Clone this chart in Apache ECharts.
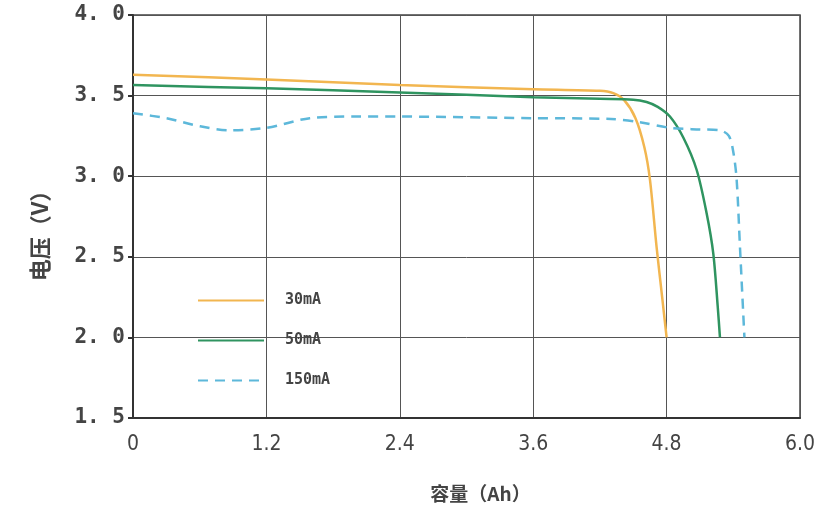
<!DOCTYPE html>
<html><head><meta charset="utf-8">
<script src="https://cdn.jsdelivr.net/npm/echarts@6/dist/echarts.min.js"></script>
<style>html,body{margin:0;padding:0;background:#fff}#c{width:825px;height:509px}</style>
</head><body><div id="c"></div>
<script>
const seriesNames = ['30mA', '50mA', '150mA'];
const cap30 = [0, 1.2, 2.4, 3.6, 4.2, 4.32, 4.42, 4.52, 4.6, 4.65, 4.71, 4.76, 4.8];
const volt30 = [3.63, 3.60, 3.565, 3.54, 3.53, 3.515, 3.47, 3.36, 3.18, 2.98, 2.56, 2.25, 2.0];
const cap50 = [0, 1.2, 2.4, 3.6, 4.2, 4.5, 4.62, 4.72, 4.83, 4.95, 5.07, 5.16, 5.22, 5.26, 5.28];
const volt50 = [3.565, 3.545, 3.52, 3.49, 3.48, 3.475, 3.46, 3.43, 3.37, 3.24, 3.04, 2.77, 2.52, 2.19, 2.0];
const cap150 = [0, 0.3, 0.6, 0.87, 1.2, 1.59, 1.98, 2.4, 3.6, 4.3, 4.56, 4.83, 5.1, 5.28, 5.36, 5.4, 5.43, 5.46, 5.5];
const volt150 = [3.39, 3.36, 3.31, 3.285, 3.30, 3.36, 3.37, 3.37, 3.36, 3.355, 3.335, 3.30, 3.29, 3.285, 3.25, 3.15, 2.98, 2.56, 2.0];
const xTicks = ['0', '1.2', '2.4', '3.6', '4.8', '6.0'];
const colors = ['#F2B650', '#2F9460', '#5DB8DA'];

const zip = (a, b) => a.map((v, i) => [v, b[i]]);
const chart = echarts.init(document.getElementById('c'));
const mkSeries = (i, xs, ys, type) => ({
  name: seriesNames[i], type: 'line', data: zip(xs, ys), symbol: 'none',
  smooth: 0.3,
  lineStyle: {color: colors[i], width: 2.5, type: type},
  itemStyle: {color: colors[i]}
});
chart.setOption({
  animation: false,
  grid: {left: 133, right: 25, top: 15, bottom: 91, show: true, borderColor: '#444', borderWidth: 1.5},
  legend: {
    orient: 'vertical', left: 192, top: 288, itemWidth: 66, itemHeight: 12, itemGap: 25,
    data: seriesNames,
    itemStyle: {opacity: 0},
    textStyle: {color: '#444', fontSize: 15, fontWeight: 'bold', fontFamily: 'DejaVu Sans Mono', padding: [0, 0, 0, 16]}
  },
  xAxis: {
    type: 'value', min: 0, max: 6, interval: 1.2,
    name: '容量（Ah）', nameLocation: 'middle', nameGap: 66,
    nameTextStyle: {color: '#444', fontSize: 19, fontWeight: 'bold', fontFamily: 'Noto Sans CJK SC', padding: [0, 0, 0, 28]},
    axisLine: {lineStyle: {color: '#333', width: 2}},
    axisTick: {show: false},
    axisLabel: {color: '#444', fontSize: 21, margin: 16, fontFamily: 'DejaVu Sans Condensed, Liberation Sans, sans-serif',
      formatter: v => xTicks[Math.round(v / 1.2)]},
    splitLine: {lineStyle: {color: '#555', width: 1}}
  },
  yAxis: {
    type: 'value', min: 1.5, max: 4.0, interval: 0.5,
    name: '电压（V）', nameLocation: 'middle', nameGap: 82,
    nameTextStyle: {color: '#444', fontSize: 22, fontWeight: 'bold', fontFamily: 'Noto Sans CJK SC', padding: [0, 28, 0, 0]},
    axisLine: {lineStyle: {color: '#333', width: 2}},
    axisTick: {show: true, length: 5, lineStyle: {color: '#333', width: 2}},
    axisLabel: {color: '#444', fontSize: 21, fontWeight: 'bold', margin: 8, fontFamily: 'DejaVu Sans Mono',
      formatter: v => v.toFixed(1).replace('.', '. ')},
    splitLine: {lineStyle: {color: '#555', width: 1}}
  },
  series: [
    mkSeries(0, cap30, volt30, 'solid'),
    mkSeries(1, cap50, volt50, 'solid'),
    mkSeries(2, cap150, volt150, [10, 7])
  ]
});
</script></body></html>
